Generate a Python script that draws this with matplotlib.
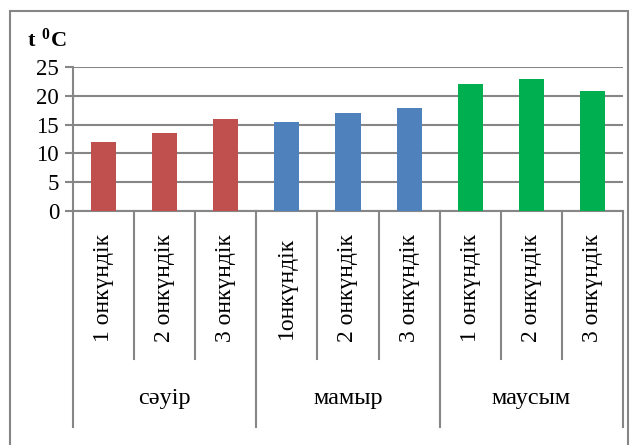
import matplotlib.pyplot as plt
import matplotlib.patches as patches

# Temperature by ten-day period (decade), April - June
months = ['сәуір', 'мамыр', 'маусым']
decade_labels = ['1 онкүндік', '2 онкүндік', '3 онкүндік',
                 '1онкүндік', '2 онкүндік', '3 онкүндік',
                 '1 онкүндік', '2 онкүндік', '3 онкүндік']
temps = [12.0, 13.5, 15.9, 15.5, 17.1, 17.8, 22.1, 23.0, 20.9]
month_colors = ['#C0504D', '#4F81BD', '#00B050']

plt.rcParams['font.family'] = ['Liberation Serif', 'DejaVu Serif']
plt.rcParams['mathtext.fontset'] = 'custom'
plt.rcParams['mathtext.bf'] = 'Liberation Serif:bold'
plt.rcParams['mathtext.rm'] = 'Liberation Serif'

W, H = 630, 445
fig = plt.figure(figsize=(W / 100, H / 100), dpi=100)

# outer chart frame
fig.patches.append(patches.Rectangle((10 / W, -0.05), 618 / W, (H - 11) / H + 0.05,
                                     transform=fig.transFigure, fill=False,
                                     edgecolor='#868686', linewidth=1.5))

ax = fig.add_axes([73 / W, (H - 211) / H, 550 / W, 144 / H])

colors = [month_colors[i // 3] for i in range(len(temps))]
x = list(range(len(temps)))
ax.bar(x, temps, width=0.41, color=colors, zorder=3)

ax.set_xlim(-0.5, len(temps) - 0.5)
ax.set_ylim(0, 25)
ax.set_yticks([0, 5, 10, 15, 20, 25])
ax.tick_params(axis='y', labelsize=16.5, length=6, width=1.5, color='#868686', pad=4)
ax.tick_params(axis='x', bottom=False, labelbottom=False)
ax.grid(axis='y', color='#868686', linewidth=1.5, zorder=0)
for s in ['top', 'right']:
    ax.spines[s].set_visible(False)
for s in ['left', 'bottom']:
    ax.spines[s].set_color('#868686')
    ax.spines[s].set_linewidth(1.5)

# two-level category axis
tr = ax.get_xaxis_transform()
for k in range(len(temps) + 1):
    xb = k - 0.5
    bottom = -1.5 if k % 3 == 0 else -1.028
    ax.plot([xb, xb], [0, bottom], transform=tr, color='#868686',
            linewidth=1.5, clip_on=False)
for i, lab in enumerate(decade_labels):
    ax.text(i, -0.535, lab, transform=tr, rotation=90, ha='center', va='center',
            fontsize=17)
for m, name in enumerate(months):
    ax.text(3 * m + 1, -1.30, name, transform=tr, ha='center', va='center',
            fontsize=17.5)

# axis title
fig.text(27 / W, 1 - 40 / H, r'$\mathbf{t\ ^{0}C}$', fontsize=16, ha='left', va='center')

fig.savefig('out.png', dpi=100)
